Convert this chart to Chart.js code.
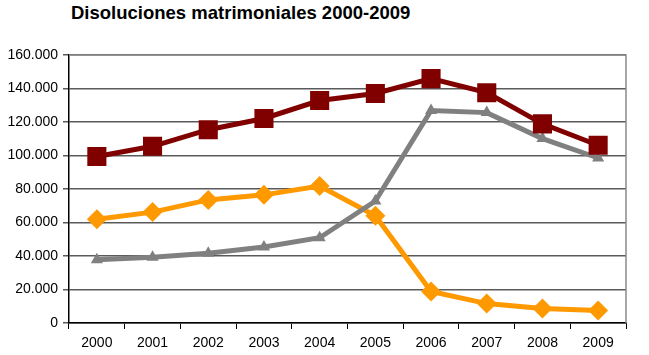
<!DOCTYPE html>
<html lang="es">
<head>
    <meta charset="UTF-8">
    <script src="https://cdn.jsdelivr.net/npm/chart.js"></script>
    <style>
        body { margin: 0; background: #fff; }
        .wrap { position: relative; width: 649px; height: 355px; }
        .title {
            position: absolute; left: 71px; top: 2px;
            font-family: "Liberation Sans", Arial, sans-serif;
            font-weight: bold; font-size: 18.5px; color: #000;
            white-space: nowrap;
        }
        canvas#lineChart { position: absolute; left: 0; top: 0; }
    </style>
</head>
<body>
<div class="wrap">
    <div class="title">Disoluciones matrimoniales 2000-2009</div>
    <canvas id="lineChart" width="649" height="355"></canvas>
</div>
<script>
// data
const years = ['2000', '2001', '2002', '2003', '2004', '2005', '2006', '2007', '2008', '2009'];
const totalDisoluciones = [99400, 105500, 115400, 122100, 132800, 137000, 145900, 137500, 118900, 106100];
const divorcios = [37700, 39200, 41600, 45400, 50900, 72800, 126900, 125600, 110100, 98500];
const separaciones = [61900, 66200, 73500, 76500, 81800, 64000, 18800, 11600, 8700, 7400];
const yTicks = [0, 20000, 40000, 60000, 80000, 100000, 120000, 140000, 160000];

// gray frame on top and right like the spreadsheet chart
const frame = {
    id: 'frame',
    beforeDatasetsDraw(chart) {
        const a = chart.chartArea, ctx = chart.ctx;
        ctx.save();
        ctx.strokeStyle = '#8a8a8a';
        ctx.lineWidth = 1.5;
        ctx.beginPath();
        ctx.moveTo(a.left, a.top);
        ctx.lineTo(a.right, a.top);
        ctx.lineTo(a.right, a.bottom);
        ctx.stroke();
        ctx.restore();
    }
};

const fmt = v => v === 0 ? '0' : (v / 1000).toFixed(0) + '.000';

new Chart(document.getElementById('lineChart'), {
    type: 'line',
    data: {
        labels: years,
        datasets: [{
            label: 'Total',
            data: totalDisoluciones,
            borderColor: '#800000',
            backgroundColor: '#800000',
            borderWidth: 5,
            pointStyle: 'rect',
            pointRadius: 13.5,
            pointBorderWidth: 0
        }, {
            label: 'Divorcios',
            data: divorcios,
            borderColor: '#808080',
            backgroundColor: '#808080',
            borderWidth: 5,
            pointStyle: 'triangle',
            pointRadius: 7,
            pointBorderWidth: 0
        }, {
            label: 'Separaciones',
            data: separaciones,
            borderColor: '#FF9900',
            backgroundColor: '#FF9900',
            borderWidth: 5,
            pointStyle: 'rectRot',
            pointRadius: 10,
            pointBorderWidth: 0
        }]
    },
    options: {
        responsive: false,
        animation: false,
        layout: { padding: { left: 3, top: 55, right: 23, bottom: 2 } },
        plugins: { legend: { display: false }, tooltip: { enabled: false } },
        scales: {
            x: {
                offset: true,
                grid: { offset: true, drawOnChartArea: false, drawTicks: true, tickLength: 6, color: '#000', lineWidth: 1 },
                border: { color: '#000', width: 1.5 },
                ticks: { color: '#000', padding: 6, font: { family: 'Liberation Sans', size: 14 } },
                afterFit(s) { s.height = 30; }
            },
            y: {
                min: 0, max: 160000,
                afterBuildTicks(s) { s.ticks = yTicks.map(v => ({ value: v })); },
                grid: { color: '#5a5a5a', lineWidth: 1.5, tickLength: 6, drawTicks: true },
                border: { color: '#000', width: 1.5 },
                ticks: { color: '#000', padding: 5, font: { family: 'Liberation Sans', size: 14 }, callback: v => fmt(v) },
                afterFit(s) { s.width = 66; }
            }
        }
    },
    plugins: [frame]
});
</script>
</body>
</html>
